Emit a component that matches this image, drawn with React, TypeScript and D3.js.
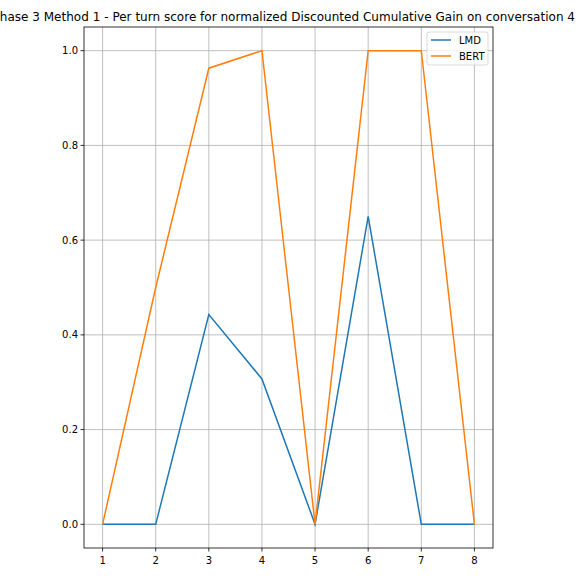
import React from "react";
import * as d3 from "d3";

const turns = [1, 2, 3, 4, 5, 6, 7, 8];
const lmd = [0, 0, 0.443, 0.307, 0, 0.65, 0, 0];
const bert = [0, 0.5, 0.963, 1.0, 0, 1.0, 1.0, 0];
const xTicks = [1, 2, 3, 4, 5, 6, 7, 8];
const yTicks = [0, 0.2, 0.4, 0.6, 0.8, 1.0];
const title = "Phase 3 Method 1 - Per turn score for normalized Discounted Cumulative Gain on conversation 4";
const seriesNames = ["LMD", "BERT"];
const colors = ["#1f77b4", "#ff7f0e"];

export default function App() {
  const W = 576, H = 576;
  const left = 84, right = 493, top = 27, bottom = 548;
  const x = d3.scaleLinear().domain([0.65, 8.35]).range([left, right]);
  const y = d3.scaleLinear().domain([-0.05, 1.05]).range([bottom, top]);
  const line = d3.line<number>().x((_, i) => x(turns[i])).y((d) => y(d));
  const font = "DejaVu Sans, sans-serif";
  const data = [lmd, bert];
  return (
    <svg width={W} height={H} style={{ position: "absolute", left: 0, top: 0, background: "#fff", overflow: "hidden" }}>
      <rect x={0} y={0} width={W} height={H} fill="#fff" />
      {xTicks.map((t) => (
        <line key={"gx" + t} x1={x(t)} x2={x(t)} y1={top} y2={bottom} stroke="#b0b0b0" strokeWidth={0.8} />
      ))}
      {yTicks.map((t) => (
        <line key={"gy" + t} x1={left} x2={right} y1={y(t)} y2={y(t)} stroke="#b0b0b0" strokeWidth={0.8} />
      ))}
      {data.map((d, i) => (
        <path key={i} d={line(d) || ""} fill="none" stroke={colors[i]} strokeWidth={1.5} />
      ))}
      <rect x={left} y={top} width={right - left} height={bottom - top} fill="none" stroke="#000" strokeWidth={0.8} />
      {xTicks.map((t) => (
        <g key={"tx" + t}>
          <line x1={x(t)} x2={x(t)} y1={bottom} y2={bottom + 3.5} stroke="#000" strokeWidth={0.8} />
          <text x={x(t)} y={bottom + 16} textAnchor="middle" fontSize={10} fontFamily={font} fill="#000">{t}</text>
        </g>
      ))}
      {yTicks.map((t) => (
        <g key={"ty" + t}>
          <line x1={left - 3.5} x2={left} y1={y(t)} y2={y(t)} stroke="#000" strokeWidth={0.8} />
          <text x={left - 6} y={y(t) + 3.5} textAnchor="end" fontSize={10} fontFamily={font} fill="#000">{t.toFixed(1)}</text>
        </g>
      ))}
      <text x={575} y={21} textAnchor="end" fontSize={12} textLength={582.5} lengthAdjust="spacing" fontFamily={font} fill="#000">{title}</text>
      <g>
        <rect x={427} y={32} width={61} height={33} rx={2} fill="#fff" fillOpacity={0.8} stroke="#d0d0d0" strokeWidth={0.8} />
        {seriesNames.map((n, i) => (
          <g key={n}>
            <line x1={431} x2={451} y1={40 + i * 16} y2={40 + i * 16} stroke={colors[i]} strokeWidth={1.5} />
            <text x={459} y={44 + i * 16} fontSize={10} fontFamily={font} fill="#000">{n}</text>
          </g>
        ))}
      </g>
    </svg>
  );
}
